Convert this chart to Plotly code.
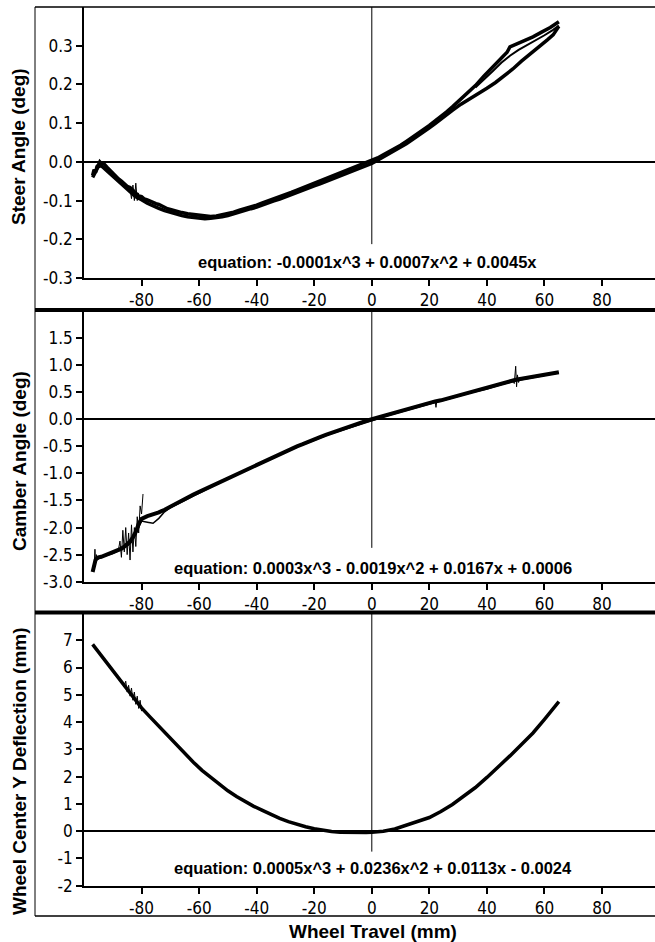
import plotly.graph_objects as go

# ---------------- data ----------------
# X axis ticks (Wheel Travel, mm)
x_ticks = [-80, -60, -40, -20, 0, 20, 40, 60, 80]
x_ticktext = ["-80", "-60", "-40", "-20", "0", "20", "40", "60", "80"]

# Panel 1: Steer angle (deg)
steer_ticks = [-0.3, -0.2, -0.1, 0.0, 0.1, 0.2, 0.3]
steer_ticktext = ["-0.3", "-0.2", "-0.1", "0.0", "0.1", "0.2", "0.3"]
steer_up_x = [-97, -96.5, -96, -95.5, -95, -94.5, -94,
              -93, -92, -91, -90, -89, -88, -87, -86, -85, -84, -83, -82, -81, -80,
              -79, -78, -77, -76, -75, -74, -73, -72, -71, -70,
              -68, -66, -64, -62, -60, -58, -56, -54, -52, -50, -48, -46, -44, -42, -40,
              -38, -36, -34, -32, -30, -28, -26, -24, -22, -20, -18, -16, -14, -12, -10,
              -8, -6, -4, -2, 0, 2, 4, 6, 8, 10, 12, 14, 16, 18, 20, 22, 24, 26, 28, 30,
              33, 36, 39, 42, 45, 47, 48, 50, 53, 56, 59, 62, 65]
steer_up_y = [-0.035, -0.02, -0.028, -0.012, -0.008, 0.0, -0.004,
              -0.006, -0.014, -0.022, -0.03, -0.038, -0.044, -0.05, -0.056, -0.063, -0.066, -0.073, -0.08, -0.088, -0.09,
              -0.096, -0.098, -0.102, -0.105, -0.108, -0.11, -0.114, -0.117, -0.121, -0.123,
              -0.128, -0.131, -0.134, -0.136, -0.138, -0.139, -0.141, -0.14, -0.137, -0.134, -0.13, -0.125, -0.121, -0.116, -0.112,
              -0.106, -0.101, -0.096, -0.09, -0.085, -0.079, -0.073, -0.067, -0.061, -0.055, -0.049, -0.044, -0.038, -0.033, -0.027,
              -0.021, -0.015, -0.009, -0.003, 0.003, 0.01, 0.018, 0.026, 0.034, 0.043, 0.053, 0.063, 0.073, 0.083, 0.094, 0.106, 0.117, 0.129, 0.142, 0.155,
              0.175, 0.197, 0.222, 0.245, 0.268, 0.283, 0.297, 0.303, 0.313, 0.323, 0.335, 0.347, 0.362]
steer_down_x = [65, 63, 61, 58, 55, 52, 49, 46, 43, 40, 37, 34, 31, 28,
                26, 24, 22, 20, 18, 16, 14, 12, 10, 8, 6, 4, 2, 0,
                -2, -4, -6, -8, -10, -12, -14, -16, -18, -20,
                -22, -24, -26, -28, -30, -32, -34, -36, -38, -40,
                -42, -44, -46, -48, -50, -52, -54, -56, -58, -60,
                -62, -64, -66, -68, -70, -72, -74, -76, -78, -80,
                -82, -84, -86, -88, -90, -92, -94, -95, -96, -97]
steer_down_y = [0.35, 0.328, 0.315, 0.297, 0.278, 0.26, 0.24, 0.222, 0.205, 0.19, 0.177, 0.163, 0.149, 0.133,
                0.121, 0.11, 0.099, 0.088, 0.077, 0.067, 0.057, 0.047, 0.038, 0.029, 0.02, 0.011, 0.004, -0.004,
                -0.01, -0.016, -0.023, -0.029, -0.035, -0.04, -0.046, -0.051, -0.057, -0.062,
                -0.068, -0.073, -0.079, -0.085, -0.09, -0.096, -0.101, -0.107, -0.112, -0.117,
                -0.121, -0.126, -0.131, -0.135, -0.139, -0.142, -0.145, -0.146, -0.147, -0.146,
                -0.144, -0.142, -0.139, -0.135, -0.131, -0.126, -0.12, -0.114, -0.107, -0.098,
                -0.09, -0.077, -0.064, -0.05, -0.036, -0.022, -0.01, -0.012, -0.025, -0.04]
steer_mid_x = [36, 39, 42, 45, 48, 51, 54, 57, 60, 63, 65]
steer_mid_y = [0.192, 0.212, 0.234, 0.256, 0.274, 0.289, 0.301, 0.315, 0.327, 0.341, 0.352]
steer_spike_x = [-84, -83.5, -83, -82.5, -82, -81.5, -81]
steer_spike_y = [-0.07, -0.095, -0.06, -0.1, -0.055, -0.1, -0.08]

# Panel 2: Camber angle (deg)
camber_ticks = [-3.0, -2.5, -2.0, -1.5, -1.0, -0.5, 0.0, 0.5, 1.0, 1.5]
camber_ticktext = ["-3.0", "-2.5", "-2.0", "-1.5", "-1.0", "-0.5", "0.0", "0.5", "1.0", "1.5"]
camber_up_x = [-97, -96.5, -96, -95.5, -95,
               -94, -93, -92, -91, -90, -89, -88, -87, -86, -85, -84, -83, -82, -81, -80,
               -78, -76, -74, -72, -70, -68, -66, -64, -62, -60,
               -58, -56, -54, -52, -50, -48, -46, -44, -42, -40,
               -38, -36, -34, -32, -30, -28, -26, -24, -22, -20,
               -18, -16, -14, -12, -10, -8, -6, -4, -2,
               0, 2, 4, 6, 8, 10, 12, 14, 16, 18,
               20, 22, 24, 26, 28, 30, 32, 34, 36, 38,
               40, 42, 44, 46, 48, 50, 52, 54, 56, 58,
               60, 62, 64, 65]
camber_up_y = [-2.82, -2.66, -2.6, -2.57, -2.55,
               -2.54, -2.52, -2.5, -2.48, -2.46, -2.44, -2.41, -2.39, -2.35, -2.3, -2.26, -2.18, -2.08, -1.93, -1.84,
               -1.79, -1.76, -1.72, -1.67, -1.61, -1.56, -1.5, -1.45, -1.39, -1.34,
               -1.29, -1.24, -1.18, -1.13, -1.08, -1.03, -0.98, -0.93, -0.88, -0.83,
               -0.78, -0.73, -0.68, -0.64, -0.59, -0.55, -0.5, -0.46, -0.41, -0.37,
               -0.33, -0.29, -0.25, -0.21, -0.17, -0.13, -0.1, -0.06, -0.03,
               0.0, 0.03, 0.07, 0.1, 0.13, 0.16, 0.19, 0.22, 0.25, 0.27,
               0.3, 0.33, 0.35, 0.38, 0.41, 0.44, 0.47, 0.5, 0.53, 0.55,
               0.58, 0.61, 0.64, 0.67, 0.7, 0.73, 0.75, 0.77, 0.79, 0.81,
               0.83, 0.85, 0.86, 0.87]
camber_down_x = [65, 60, 55, 50, 45, 40, 35, 30, 25, 20,
                 15, 10, 5, 0, -5, -10, -15, -20, -25, -30,
                 -35, -40, -45, -50, -55, -60, -65, -70,
                 -72, -74, -76, -78, -80, -82, -84, -86, -88, -90,
                 -93, -96]
camber_down_y = [0.86, 0.81, 0.77, 0.71, 0.64, 0.56, 0.5, 0.42, 0.35, 0.28,
                 0.21, 0.14, 0.06, -0.03, -0.11, -0.19, -0.28, -0.39, -0.49, -0.61,
                 -0.73, -0.85, -0.97, -1.1, -1.23, -1.37, -1.5, -1.63,
                 -1.71, -1.83, -1.92, -1.9, -1.88, -2.12, -2.3, -2.38, -2.43, -2.48,
                 -2.53, -2.6]
camber_spike_x = [-88, -87.5, -87, -86.5, -86, -85.5, -85, -84.5, -84, -83.5,
                  -83, -82.5, -82, -81.5, -81, -80.5, -80, -79.7, -79.5]
camber_spike_y = [-2.4, -2.25, -2.55, -2.05, -2.45, -2.0, -2.5, -2.1, -2.6, -1.95,
                  -2.45, -2.0, -2.35, -1.8, -2.1, -1.6, -1.75, -1.5, -1.38]
camber_spike2_x = [-96.5, -96.2, -96, -95.7, -95.5]
camber_spike2_y = [-2.75, -2.4, -2.65, -2.5, -2.6]
camber_spike3_x = [49, 49.5, 50, 50.3, 50.6, 51, 51.5]
camber_spike3_y = [0.72, 0.66, 0.98, 0.6, 0.82, 0.68, 0.76]
camber_spike4_x = [22, 22.3, 22.6]
camber_spike4_y = [0.33, 0.22, 0.34]

# Panel 3: Wheel center Y deflection (mm)
wheel_ticks = [-2, -1, 0, 1, 2, 3, 4, 5, 6, 7]
wheel_ticktext = ["-2", "-1", "0", "1", "2", "3", "4", "5", "6", "7"]
wheel_x = [-97, -94, -91, -88, -85, -82, -80,
           -77, -74, -71, -68, -65, -62, -59, -56, -53, -50,
           -47, -44, -41, -38, -35, -32, -29, -26, -23, -20,
           -17, -14, -11, -8, -5, -2, 0,
           4, 8, 12, 16, 20, 24, 28, 32, 36, 40, 44, 48, 52, 56, 60, 64, 65]
wheel_y = [6.85, 6.43, 6.01, 5.6, 5.2, 4.79, 4.52,
           4.18, 3.85, 3.5, 3.15, 2.83, 2.53, 2.23, 1.97, 1.72, 1.48,
           1.27, 1.08, 0.91, 0.76, 0.61, 0.47, 0.35, 0.25, 0.16, 0.09,
           0.03, -0.01, -0.04, -0.05, -0.05, -0.05, -0.04,
           0.0, 0.08, 0.22, 0.36, 0.5, 0.72, 0.98, 1.29, 1.6, 1.97, 2.35, 2.76, 3.18, 3.6, 4.1, 4.62, 4.75]
wheel_spike_x = [-86, -85.5, -85, -84.5, -84, -83.5, -83, -82.5, -82, -81.5, -81, -80.5, -80]
wheel_spike_y = [5.33, 5.5, 5.1, 5.35, 4.95, 5.25, 4.8, 5.1, 4.65, 4.95, 4.5, 4.8, 4.4]

y_titles = ["Steer Angle (deg)", "Camber Angle (deg)", "Wheel Center Y Deflection (mm)"]
x_title = "Wheel Travel (mm)"
equations = ["equation: -0.0001x^3 + 0.0007x^2 + 0.0045x",
             "equation: 0.0003x^3 - 0.0019x^2 + 0.0167x + 0.0006",
             "equation: 0.0005x^3 + 0.0236x^2 + 0.0113x - 0.0024"]

# ---------------- layout helpers ----------------
W, H = 655, 942
def fx(p):
    return p / W
def fy(p):
    return 1 - p / H

TICK_FONT = dict(family="DejaVu Sans Condensed, Liberation Sans Narrow, sans-serif", size=17, color="black")
TITLE_FONT = dict(family="Liberation Sans, Arial, sans-serif", size=19, color="black")
EQ_FONT = dict(family="Liberation Sans, Arial, sans-serif", size=16.5, color="black")

# plot-area pixel boxes (top, bottom)
boxes = [(7, 278), (311, 581.7), (613, 885.7)]
yranges = [[-0.3, 0.4], [-3.0, 2.0], [-2.0, 8.0]]
yticks = [(steer_ticks, steer_ticktext), (camber_ticks, camber_ticktext), (wheel_ticks, wheel_ticktext)]
title_centers = [147, 461, 771]
eq_pos = [(-1.5, 0.06), (0.5, 0.051), (0.5, 0.065)]

fig = go.Figure()

def add_line(x, y, i, width, color="black"):
    fig.add_trace(go.Scatter(x=x, y=y, mode="lines",
                             line=dict(color=color, width=width),
                             xaxis="x" if i == 0 else f"x{i+1}",
                             yaxis="y" if i == 0 else f"y{i+1}",
                             hoverinfo="skip", showlegend=False))

add_line(steer_up_x, steer_up_y, 0, 3.5)
add_line(steer_down_x, steer_down_y, 0, 3.5)
add_line(steer_mid_x, steer_mid_y, 0, 2)
add_line(steer_spike_x, steer_spike_y, 0, 1)

add_line(camber_up_x, camber_up_y, 1, 4)
add_line(camber_down_x, camber_down_y, 1, 1.5)
add_line(camber_spike_x, camber_spike_y, 1, 1)
add_line(camber_spike2_x, camber_spike2_y, 1, 1)
add_line(camber_spike3_x, camber_spike3_y, 1, 1)
add_line(camber_spike4_x, camber_spike4_y, 1, 1)

add_line(wheel_x, wheel_y, 2, 3.5)
add_line(wheel_spike_x, wheel_spike_y, 2, 1)

layout = dict(template="none", width=W, height=H, margin=dict(l=0, r=0, t=0, b=0, pad=0),
              paper_bgcolor="white", plot_bgcolor="white", showlegend=False)

shapes = []
annotations = []
for i in range(3):
    xs = "xaxis" if i == 0 else f"xaxis{i+1}"
    ys = "yaxis" if i == 0 else f"yaxis{i+1}"
    xr = "x" if i == 0 else f"x{i+1}"
    yr = "y" if i == 0 else f"y{i+1}"
    top, bot = boxes[i]
    layout[xs] = dict(domain=[fx(84), 1.0], range=[-100, 98.4], anchor=yr, automargin=False,
                      tickmode="array", tickvals=x_ticks, ticktext=x_ticktext,
                      ticks="outside", ticklen=6, tickwidth=1.5, tickcolor="black",
                      showline=True, linecolor="black", linewidth=2,
                      showgrid=False, zeroline=False, tickfont=TICK_FONT, fixedrange=True)
    tv, tt = yticks[i]
    layout[ys] = dict(domain=[fy(bot), fy(top)], range=yranges[i], anchor=xr, automargin=False,
                      tickmode="array", tickvals=tv, ticktext=tt,
                      ticks="outside", ticklen=6, tickwidth=1.5, tickcolor="black",
                      showline=True, linecolor="black", linewidth=1.5,
                      showgrid=False, zeroline=True, zerolinecolor="black", zerolinewidth=1.5,
                      tickfont=TICK_FONT, fixedrange=True)
    # vertical zero line (x = 0) stopping above the equation
    shapes.append(dict(type="line", xref=xr, x0=0, x1=0, yref=f"{yr} domain", y0=0.125, y1=1,
                       line=dict(color="black", width=1)))
    annotations.append(dict(text=f"<b>{y_titles[i]}</b>", xref="paper", yref="paper",
                            x=fx(19), y=fy(title_centers[i]), textangle=-90, showarrow=False,
                            xanchor="center", yanchor="middle", font=TITLE_FONT))
    ex, ey = eq_pos[i]
    annotations.append(dict(text=f"<b>{equations[i]}</b>", xref=xr, yref=f"{yr} domain",
                            x=ex, y=ey, showarrow=False, xanchor="center", yanchor="middle",
                            font=EQ_FONT))

annotations.append(dict(text=f"<b>{x_title}</b>", xref="x3", yref="paper", x=0.5, y=fy(931),
                        showarrow=False, xanchor="center", yanchor="middle", font=TITLE_FONT))

# outer frame and separators
shapes += [
    dict(type="line", xref="paper", yref="paper", x0=fx(35), x1=fx(35), y0=fy(7), y1=fy(916),
         line=dict(color="black", width=1)),
    dict(type="line", xref="paper", yref="paper", x0=fx(35), x1=1, y0=fy(7), y1=fy(7),
         line=dict(color="black", width=1.5)),
    dict(type="line", xref="paper", yref="paper", x0=fx(35), x1=1, y0=fy(310), y1=fy(310),
         line=dict(color="black", width=4)),
    dict(type="line", xref="paper", yref="paper", x0=fx(35), x1=1, y0=fy(612.5), y1=fy(612.5),
         line=dict(color="black", width=4)),
    dict(type="line", xref="paper", yref="paper", x0=fx(35), x1=1, y0=fy(916), y1=fy(916),
         line=dict(color="black", width=1.5)),
]
layout["shapes"] = shapes
layout["annotations"] = annotations
fig.update_layout(**layout)

fig.write_html("out.html", config={"displayModeBar": False},
               post_script="document.body.style.margin='0';document.body.style.overflow='hidden';")
